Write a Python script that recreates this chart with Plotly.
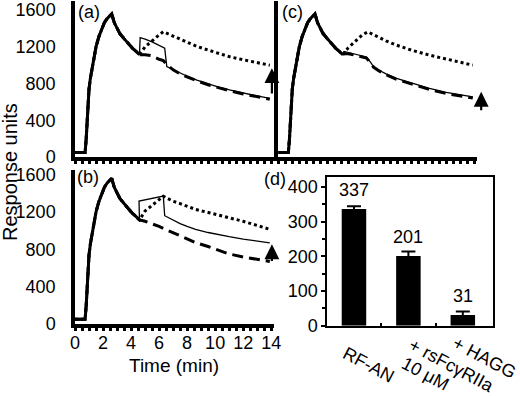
import plotly.graph_objects as go

# ---------------- data ----------------
# shared association phase (all sensorgrams)
t_assoc = [0, 0.72, 0.8, 0.9, 1.0, 1.1, 1.3, 1.5, 1.7, 1.9, 2.1, 2.3, 2.5, 2.62,
           2.8, 3.0, 3.2, 3.5, 3.8, 4.1, 4.4, 4.6]
v_assoc = [50, 50, 200, 520, 740, 860, 1050, 1200, 1310, 1400, 1465, 1510, 1545, 1560,
           1465, 1395, 1345, 1290, 1235, 1185, 1145, 1115]

# panel (a)
ta_solid = [4.65, 5.0, 5.5, 6.0, 6.4, 6.55, 7.0, 7.5, 8.0, 8.7, 9.5, 10.3, 11.1, 12.0, 13.0, 13.9]
va_solid = [1300, 1285, 1255, 1220, 1185, 985, 950, 915, 880, 838, 795, 760, 729, 695, 665, 640]
ta_dot = [5.0, 5.5, 6.0, 6.3, 6.6, 7.0, 7.5, 8.0, 8.7, 9.5, 10.3, 11.1, 12.0, 13.0, 13.9]
va_dot = [1200, 1270, 1330, 1365, 1345, 1315, 1285, 1255, 1205, 1165, 1125, 1090, 1060, 1030, 1000]
ta_dash = [5.0, 5.4, 6.0, 6.3, 6.6, 7.0, 7.5, 8.0, 8.7, 9.5, 10.3, 11.1, 12.0, 13.0, 13.9]
va_dash = [1115, 1105, 1065, 1050, 1000, 950, 905, 870, 830, 787, 752, 720, 687, 655, 630]

# panel (b)
tb_solid = [4.57, 5.0, 5.5, 6.0, 6.3, 6.4, 7.0, 7.5, 8.0, 8.6, 9.5, 10.3, 11.0, 12.0, 13.0, 13.9]
vb_solid = [1316, 1330, 1345, 1360, 1370, 1160, 1110, 1075, 1045, 1013, 980, 955, 935, 910, 890, 870]
tb_dot = [5.0, 5.5, 6.0, 6.3, 6.6, 7.0, 7.5, 8.0, 8.6, 9.5, 10.3, 11.0, 12.0, 13.0, 13.9]
vb_dot = [1210, 1270, 1330, 1369, 1345, 1315, 1290, 1262, 1227, 1195, 1165, 1138, 1100, 1055, 1015]
tb_dash = [5.0, 5.5, 6.0, 6.5, 7.0, 7.5, 8.0, 8.6, 9.5, 10.3, 11.0, 12.0, 13.0, 13.9]
vb_dash = [1100, 1075, 1045, 1010, 978, 945, 910, 873, 830, 790, 750, 718, 690, 670]

# panel (c)
tc_solid = [4.7, 5.0, 5.5, 6.0, 6.3, 6.6, 6.8, 7.2, 7.7, 8.45, 9.5, 10.8, 12.0, 13.0, 13.9]
vc_solid = [1150, 1140, 1120, 1100, 1090, 1030, 985, 945, 905, 856, 805, 747, 705, 678, 656]
tc_dash = [4.7, 5.0, 5.5, 6.0, 6.3, 6.6, 6.8, 7.2, 7.7, 8.45, 9.5, 10.8, 12.0, 13.0, 13.9]
vc_dash = [1125, 1125, 1110, 1090, 1078, 1025, 980, 938, 896, 846, 793, 735, 692, 664, 642]
tc_dot = [5.0, 5.5, 6.0, 6.4, 6.8, 7.2, 7.7, 8.45, 9.5, 10.8, 12.0, 13.0, 13.9]
vc_dot = [1190, 1260, 1330, 1364, 1335, 1300, 1265, 1219, 1165, 1110, 1065, 1030, 1001]

# arrows (a), (b), (c)
arrow_x = [14.05, 14.05, 14.5]
arrow_tip = [968, 853, 710]
arrow_tail = [675, 658, 493]

# panel (d)
bar_cats = [1, 2, 3]
bar_names = ["RF-AN", "+ rsFcγRIIa", "+ HAGG"]
bar_sub = ["", "10 μM", ""]
bar_values = [337, 201, 31]
bar_err = [8, 13, 10]

time_ticks = [0, 2, 4, 6, 8, 10, 12, 14]
ru_ticks = [0, 400, 800, 1200, 1600]
d_ticks = [0, 100, 200, 300, 400]

# ---------------- layout helpers ----------------
W, H = 520, 396
FONT = "Liberation Sans, Arial, Helvetica, sans-serif"
T_MAX = 14.2


def fx(p):
    return p / W


def fy(p):
    return 1 - p / H


fig = go.Figure()


def add_panel(n, t_s, v_s, t_da, v_da, t_do, v_do):
    xa, ya = "x" + ("" if n == 1 else str(n)), "y" + ("" if n == 1 else str(n))
    fig.add_trace(go.Scatter(x=t_assoc + t_da, y=v_assoc + v_da, mode="lines",
                             line=dict(color="black", width=3, dash="11px,6px"),
                             xaxis=xa, yaxis=ya, showlegend=False))
    fig.add_trace(go.Scatter(x=t_assoc + t_do, y=v_assoc + v_do, mode="lines",
                             line=dict(color="black", width=3, dash="dot"),
                             xaxis=xa, yaxis=ya, showlegend=False))
    fig.add_trace(go.Scatter(x=t_assoc, y=v_assoc, mode="lines",
                             line=dict(color="black", width=3),
                             xaxis=xa, yaxis=ya, showlegend=False))
    fig.add_trace(go.Scatter(x=t_assoc + t_s, y=v_assoc + v_s, mode="lines",
                             line=dict(color="black", width=1.3),
                             xaxis=xa, yaxis=ya, showlegend=False))


add_panel(1, ta_solid, va_solid, ta_dash, va_dash, ta_dot, va_dot)
add_panel(2, tb_solid, vb_solid, tb_dash, vb_dash, tb_dot, vb_dot)
add_panel(3, tc_solid, vc_solid, tc_dash, vc_dash, tc_dot, vc_dot)

fig.add_trace(go.Bar(x=bar_cats, y=bar_values, width=0.45, marker=dict(color="black", line=dict(width=0)),
                     error_y=dict(type="data", array=bar_err, visible=True, color="black",
                                  thickness=2, width=7),
                     xaxis="x4", yaxis="y4", showlegend=False))

tfont = dict(family=FONT, size=18, color="black")

time_x = dict(range=[0, T_MAX], showgrid=False, zeroline=False, showline=True, automargin=False,
              linecolor="black", linewidth=3.5, ticks="outside", tickvals=time_ticks,
              ticklen=3, tickwidth=3, tickcolor="black", ticklabelstandoff=-3,
              minor=dict(dtick=0.5, ticks="outside", ticklen=3, tickwidth=3, tickcolor="black"),
              tickfont=tfont)
ru_y = dict(showgrid=False, zeroline=False, showline=True, linecolor="black", linewidth=3.5,
            automargin=False, ticks="", tickvals=ru_ticks, tickfont=tfont, ticklabelstandoff=12)

fig.update_layout(
    width=W, height=H, margin=dict(l=0, r=0, t=0, b=0, autoexpand=False),
    paper_bgcolor="white", plot_bgcolor="rgba(0,0,0,0)", showlegend=False,
    font=dict(family=FONT, size=18, color="black"),
    xaxis=dict(time_x, domain=[fx(75), fx(274)], anchor="y", showticklabels=False),
    yaxis=dict(ru_y, domain=[fy(157), fy(1)], range=[0, 1700], anchor="x"),
    xaxis2=dict(time_x, domain=[fx(75), fx(274)], anchor="y2", showticklabels=True),
    yaxis2=dict(ru_y, domain=[fy(324), fy(169.5)], range=[0, 1655], anchor="x2"),
    xaxis3=dict(time_x, domain=[fx(278.3), fx(477)], anchor="y3", showticklabels=False),
    yaxis3=dict(ru_y, domain=[fy(157), fy(1)], range=[0, 1700], anchor="x3", showticklabels=False),
    xaxis4=dict(domain=[fx(327.3), fx(493.3)], range=[0.51, 3.56], anchor="y4", automargin=False,
                showgrid=False, zeroline=False, showline=True, mirror=True,
                linecolor="black", linewidth=2, tickvals=[1.5, 2.5], ticks="inside",
                ticklen=3, tickwidth=2, tickcolor="black", showticklabels=False),
    yaxis4=dict(domain=[fy(325.7), fy(176.7)], range=[0, 430], anchor="x4", automargin=False,
                showgrid=False, zeroline=False, showline=True, mirror=True,
                linecolor="black", linewidth=2, tickvals=d_ticks, ticks="outside",
                ticklen=4, tickwidth=2, tickcolor="black", tickfont=tfont,
                minor=dict(dtick=50, ticks="outside", ticklen=3, tickwidth=2, tickcolor="black")),
)

ann = []
# arrows (x given relative to the time-axis domain so they may sit just past its end)
for i, (xa, ya) in enumerate([("x", "y"), ("x2", "y2"), ("x3", "y3")]):
    xd = arrow_x[i] / T_MAX
    ann.append(dict(x=xd, y=arrow_tip[i], ax=xd, ay=arrow_tail[i],
                    xref=xa + " domain", yref=ya, axref=xa + " domain", ayref=ya,
                    text="", showarrow=True,
                    arrowhead=2, arrowsize=1.35, arrowwidth=2.2, arrowcolor="black"))

# panel letters
for lab, cx, cy in [("(a)", 89, 12), ("(b)", 88, 177), ("(c)", 292, 12), ("(d)", 275, 179)]:
    ann.append(dict(text=lab, x=fx(cx), y=fy(cy), xref="paper", yref="paper",
                    showarrow=False, xanchor="center", yanchor="middle", font=tfont))

# axis titles
ann.append(dict(text="Time (min)", x=fx(174), y=fy(365), xref="paper", yref="paper",
                showarrow=False, xanchor="center", yanchor="middle",
                font=dict(family=FONT, size=19, color="black")))
ann.append(dict(text="Response units", x=fx(10), y=fy(172), xref="paper", yref="paper",
                showarrow=False, xanchor="center", yanchor="middle", textangle=-90,
                font=dict(family=FONT, size=20, color="black")))

# bar value labels
for c, v in zip(bar_cats, bar_values):
    ann.append(dict(text=str(v), x=c, y=v, xref="x4", yref="y4", showarrow=False,
                    xanchor="center", yanchor="middle", yshift=19, font=tfont))

# category labels (rotated)
cat_pos = [(15, 365), (44, 365.5), (22, 358)]
for c, name, (dx, cy) in zip(bar_cats, bar_names, cat_pos):
    ann.append(dict(text=name, x=c, xshift=dx, y=fy(cy), xref="x4", yref="paper",
                    showarrow=False, xanchor="center", yanchor="middle", textangle=28,
                    font=tfont))
for c, sub in zip(bar_cats, bar_sub):
    if sub:
        ann.append(dict(text=sub, x=c, xshift=17, y=fy(374), xref="x4", yref="paper",
                        showarrow=False, xanchor="center", yanchor="middle", textangle=28,
                        font=tfont))

fig.update_layout(annotations=ann)
fig.write_html("out.html", config={"displayModeBar": False},
               post_script="document.body.style.margin='0';document.body.style.overflow='hidden';")
